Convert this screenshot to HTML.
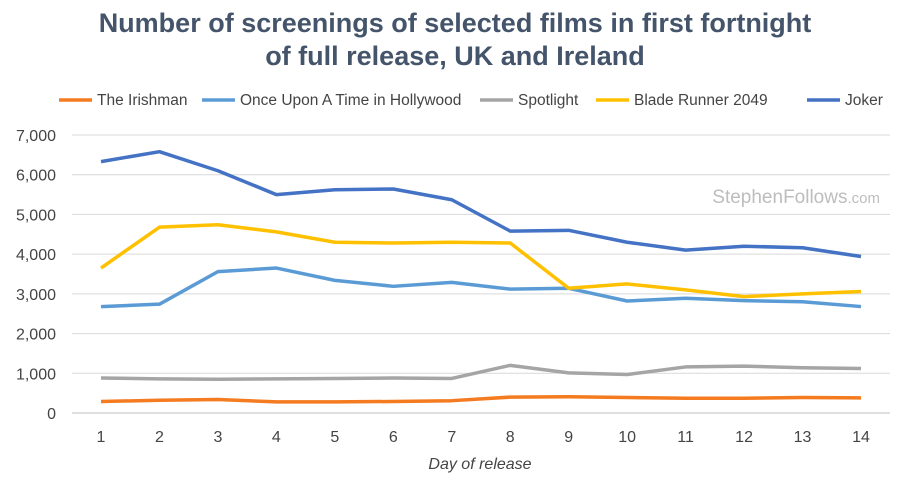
<!DOCTYPE html>
<html><head><meta charset="utf-8"><style>
body{margin:0;background:#fff;}
svg text{font-family:"Liberation Sans",sans-serif;}
</style></head><body>
<svg id="chart" width="900" height="480">
<text x="455" y="32" text-anchor="middle" font-size="27" font-weight="bold" fill="#44546A">Number of screenings of selected films in first fortnight</text>
<text x="455" y="65" text-anchor="middle" font-size="27" font-weight="bold" fill="#44546A">of full release, UK and Ireland</text>
<g id="legend"></g>
<g id="grid"></g>
<g id="yaxis"></g>
<g id="xaxis"></g>
<text x="880" y="203" text-anchor="end" font-size="19" fill="#bdbdbd">StephenFollows<tspan font-size="15">.com</tspan></text>
<g id="series"></g>
<text x="480" y="469" text-anchor="middle" font-size="16" font-style="italic" fill="#444">Day of release</text>
</svg>
<script>
const days=[1,2,3,4,5,6,7,8,9,10,11,12,13,14];
const yTicks=[0,1000,2000,3000,4000,5000,6000,7000];
const names=["The Irishman","Once Upon A Time in Hollywood","Spotlight","Blade Runner 2049","Joker"];
const irishman=[290,320,340,280,280,290,310,400,410,390,370,370,390,380];
const ouatih=[2680,2740,3560,3650,3340,3190,3290,3120,3140,2820,2890,2830,2800,2680];
const spotlight=[880,860,850,860,870,880,870,1200,1010,970,1160,1180,1140,1120];
const bladeRunner=[3650,4680,4740,4560,4300,4280,4300,4280,3140,3250,3100,2930,3000,3060];
const joker=[6330,6580,6100,5500,5620,5640,5370,4580,4600,4300,4100,4200,4160,3940];
const seriesData=[irishman,ouatih,spotlight,bladeRunner,joker];
const colors=["#F47B20","#5B9BD5","#A5A5A5","#FFC000","#4472C4"];
const NS="http://www.w3.org/2000/svg";
const x=d=>101+(d-1)*(861-101)/13;
const y=v=>413-v*(413-135)/7000;
function mk(t,a,p){const e=document.createElementNS(NS,t);for(const k in a)e.setAttribute(k,a[k]);p.appendChild(e);return e;}
const grid=document.getElementById('grid'),ya=document.getElementById('yaxis'),xa=document.getElementById('xaxis');
yTicks.forEach(t=>{
 const l=mk('line',{x1:72,x2:890,y1:y(t),y2:y(t),stroke:t===0?'#bfbfbf':'#d9d9d9','stroke-width':1},grid);
 
 
 const tx=mk('text',{x:56,y:y(t)+6,'text-anchor':'end','font-size':16,fill:'#444'},ya);
 tx.textContent=t.toLocaleString('en-US');
 
 
});
days.forEach(d=>{
 const tx=mk('text',{x:x(d),y:442,'text-anchor':'middle','font-size':16,fill:'#444'},xa);
 tx.textContent=d;
 
 
});
const sg=document.getElementById('series');
seriesData.forEach((s,i)=>{
 const p=mk('polyline',{points:s.map((v,j)=>x(days[j])+','+y(v)).join(' '),fill:'none',stroke:colors[i],'stroke-width':3.5,'stroke-linejoin':'round'},sg);
 
 
});
const lg=document.getElementById('legend');
const lx=[97,240,518,634,845];
names.forEach((n,i)=>{
 const l=mk('line',{x1:lx[i]-38,x2:lx[i]-5,y1:100,y2:100,stroke:colors[i],'stroke-width':3.5},lg);
 
 
 const t=mk('text',{x:lx[i],y:105,'font-size':15.5,fill:'#444'},lg);
 t.textContent=n;
 
 
});
</script>
</body></html>
